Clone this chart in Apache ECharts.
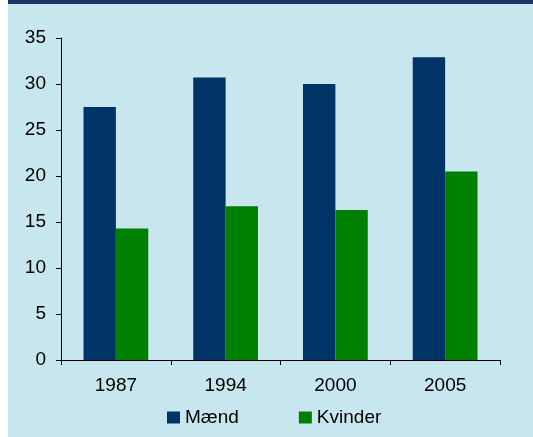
<!DOCTYPE html>
<html>
<head>
<meta charset="utf-8">
<script src="https://cdn.jsdelivr.net/npm/echarts@6/dist/echarts.min.js"></script>
<style>
html,body{margin:0;padding:0;background:#ffffff;}
#chart{width:533px;height:437px;}
</style>
</head>
<body>
<div id="chart"></div>
<script>
const categories = ['1987', '1994', '2000', '2005'];
const maend = [27.5, 30.7, 30.0, 32.9];
const kvinder = [14.3, 16.7, 16.3, 20.5];
const yTicks = [0, 5, 10, 15, 20, 25, 30, 35];

const chart = echarts.init(document.getElementById('chart'));
const font = 'Liberation Sans, Arial, sans-serif';
chart.setOption({
  animation: false,
  backgroundColor: '#ffffff',
  graphic: [
    { type: 'rect', z: -10, shape: { x: 8, y: 0, width: 525, height: 437 }, style: { fill: '#c8e6ee' } },
    { type: 'rect', z: -9, shape: { x: 8, y: 0, width: 525, height: 4 }, style: { fill: '#1f3266' } }
  ],
  grid: { left: 61, right: 33, top: 38, bottom: 77, containLabel: false },
  legend: {
    data: ['Mænd', 'Kvinder'],
    top: 408,
    left: 167,
    padding: 0,
    itemWidth: 13,
    itemHeight: 12,
    itemGap: 60,
    icon: 'rect',
    textStyle: { fontFamily: font, fontSize: 19, color: '#000' }
  },
  xAxis: {
    type: 'category',
    data: categories,
    axisLine: { lineStyle: { color: '#000', width: 1 } },
    axisTick: { show: true, length: 5, inside: false, lineStyle: { color: '#000' } },
    axisLabel: { fontFamily: font, fontSize: 19, color: '#000', margin: 16 }
  },
  yAxis: {
    type: 'value',
    min: yTicks[0],
    max: yTicks[yTicks.length - 1],
    interval: 5,
    splitLine: { show: false },
    axisLine: { show: true, lineStyle: { color: '#000', width: 1 } },
    axisTick: { show: true, length: 5, lineStyle: { color: '#000' } },
    axisLabel: { fontFamily: font, fontSize: 19, color: '#000', margin: 15 }
  },
  series: [
    { name: 'Mænd', type: 'bar', data: maend, barGap: '0%', barCategoryGap: '41%', itemStyle: { color: '#003366' } },
    { name: 'Kvinder', type: 'bar', data: kvinder, barGap: '0%', barCategoryGap: '41%', itemStyle: { color: '#008000' } }
  ]
});
</script>
</body>
</html>
